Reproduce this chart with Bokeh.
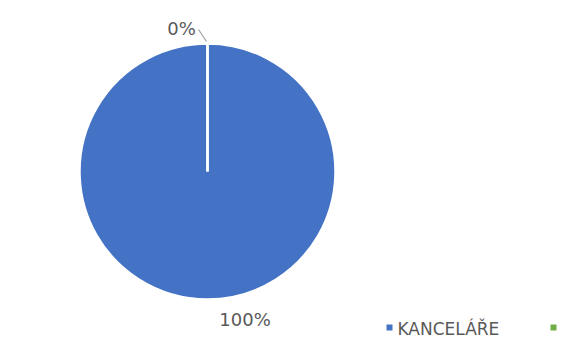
import math
from bokeh.plotting import figure
from bokeh.models import ColumnDataSource
from bokeh.core.properties import value
from bokeh.embed import file_html
from bokeh.resources import INLINE

# ---- data ----
categories = ["KANCELÁŘE", ""]
values = [100, 0]
colors = ["#4472C4", "#70AD47"]

# ---- layout (figure pixels, y up) ----
W, H = 563, 338
CX, CY, R = 207, 167, 128
FONT = "DejaVu Sans"
TXT = "#595959"

total = float(sum(values))
starts, ends, keep = [], [], []
acc = 0.0
for i, v in enumerate(values):
    a0 = math.pi / 2 - 2 * math.pi * acc / total
    acc += v
    a1 = math.pi / 2 - 2 * math.pi * acc / total
    if a0 - a1 >= 2 * math.pi - 1e-9:
        a1 = a0 - (2 * math.pi - 1e-4)
    if v > 0:
        keep.append(i)
    starts.append(a0)
    ends.append(a1)

src = ColumnDataSource(dict(cat=[categories[i] for i in keep],
                            val=[values[i] for i in keep],
                            color=[colors[i] for i in keep],
                            start=[starts[i] for i in keep],
                            end=[ends[i] for i in keep]))

p = figure(width=W, height=H, x_range=(0, W), y_range=(0, H),
           output_backend="svg", toolbar_location=None, min_border=0)
p.axis.visible = False
p.grid.visible = False
p.outline_line_color = None
p.background_fill_color = "white"
p.border_fill_color = "white"

p.wedge(x=CX, y=CY, radius=R, start_angle="start", end_angle="end",
        direction="clock", fill_color="color", line_color="white",
        line_width=2.5, source=src)
# slice border at the zero slice position
p.segment(x0=[CX], y0=[CY], x1=[CX + R * math.cos(starts[1])],
          y1=[CY + R * math.sin(starts[1])], line_color="white", line_width=2.5)

# data labels
pct = [f"{round(100 * v / total)}%" for v in values]
label_x = [244.5, 181]
label_y = [19, 310]
p.text(x=label_x, y=label_y, text=pct, text_font=value(FONT),
       text_font_size="18px", text_color=TXT, text_align="center",
       text_baseline="alphabetic")
# leader line for the small slice
p.line(x=[198, 206], y=[309, 297], line_color="#A6A6A6", line_width=1.3)

# legend (manual)
leg_x = [389, 553]
leg_y = [11, 11]
p.scatter(x=leg_x, y=leg_y, marker="square", size=6, fill_color=colors,
          line_color=None)
p.text(x=[lx + 8 for lx in leg_x], y=[10, 10], text=categories,
       text_font=value(FONT), text_font_size="17px", text_color=TXT,
       text_align="left", text_baseline="alphabetic")

open("out.html", "w").write(file_html(p, INLINE))
